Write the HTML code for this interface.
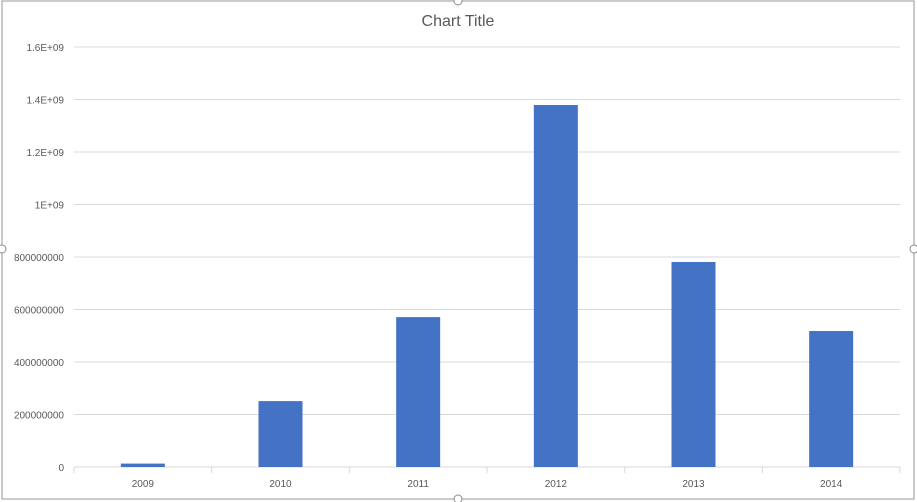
<!DOCTYPE html>
<html><head><meta charset="utf-8"><style>
body{margin:0;background:#fff;font-family:"Liberation Sans",sans-serif}
svg{display:block}
</style></head><body>
<svg width="917" height="502" id="c">
<rect x="2" y="1" width="912" height="498" fill="#fff" stroke="#a6a6a6" stroke-width="1.2"/>
<text x="458" y="26" text-anchor="middle" font-size="16" fill="#595959">Chart Title</text>
<g id="grid"></g><g id="bars"></g><g id="labels"></g>
<circle cx="2" cy="249" r="4" fill="#fff" stroke="#8c8c8c"/>
<circle cx="914" cy="249" r="4" fill="#fff" stroke="#8c8c8c"/>
<circle cx="458" cy="1" r="4" fill="#fff" stroke="#8c8c8c"/>
<circle cx="458" cy="499" r="4" fill="#fff" stroke="#8c8c8c"/>
</svg>
<script>
const categories=["2009","2010","2011","2012","2013","2014"];
const values=[13000000,251000000,571000000,1379000000,781000000,518000000];
const yTicks=[0,200000000,400000000,600000000,800000000,1000000000,1200000000,1400000000,1600000000];
const yTickLabels=["0","200000000","400000000","600000000","800000000","1E+09","1.2E+09","1.4E+09","1.6E+09"];
const NS="http://www.w3.org/2000/svg";
const L=74,R=900,T=47,B=467,yMax=1.6e9;
const y=v=>B-(v/yMax)*(B-T);
const band=(R-L)/categories.length;
const x=i=>L+band*(i+0.5);
function mk(t,a,p){const e=document.createElementNS(NS,t);for(const k in a)e.setAttribute(k,a[k]);document.getElementById(p).appendChild(e);return e;}
yTicks.forEach((v,i)=>{
 const g=mk('line',{x1:L,x2:R,y1:y(v),y2:y(v),stroke:'#d9d9d9','stroke-width':1},'grid');
 
 
 const t=mk('text',{x:64,y:y(v)+4,'text-anchor':'end','font-size':10,fill:'#595959'},'labels');
 t.textContent=yTickLabels[i];
 
 
});
for(let i=0;i<=categories.length;i++){
 const tk=mk('line',{x1:L+band*i,x2:L+band*i,y1:B,y2:B+6,stroke:'#d9d9d9'},'grid');
 
 
}
categories.forEach((c,i)=>{
 const w=44;
 const b=mk('rect',{x:x(i)-w/2,y:y(values[i]),width:w,height:B-y(values[i]),fill:'#4472c4'},'bars');
 
 
 const t=mk('text',{x:x(i),y:487,'text-anchor':'middle','font-size':10,fill:'#595959'},'labels');
 t.textContent=c;
 
 
});
</script>
</body></html>
